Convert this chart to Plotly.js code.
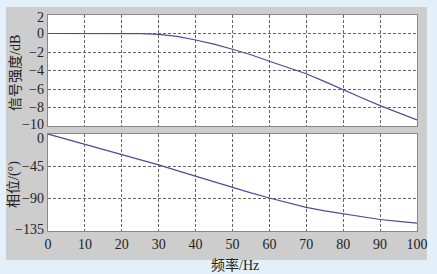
<!DOCTYPE html>
<html>
<head>
<meta charset="utf-8">
<script src="https://cdn.plot.ly/plotly-3.0.1.min.js"></script>
<style>html,body{margin:0;padding:0;background:#E3F0F9;}#chart{width:437px;height:274px;}</style>
</head>
<body>
<div id="chart"></div>
<script>
const freq = [0,5,10,15,20,25,30,35,40,45,50,55,60,65,70,75,80,85,90,95,100];
const magnitude = [0,0,0,0,0,-0.02,-0.1,-0.32,-0.7,-1.15,-1.7,-2.3,-3.0,-3.65,-4.35,-5.2,-6.1,-6.95,-7.8,-8.6,-9.35];
const phase = [0,-7,-14,-21,-28,-35.5,-43,-51,-59,-67,-75,-82,-89,-96,-102,-107,-111,-115.5,-119,-121.5,-124];
const xTicks = [0,10,20,30,40,50,60,70,80,90,100];
const magTicks = [2,0,-2,-4,-6,-8,-10];
const phaseTicks = [0,-45,-90,-135];
const magTitle = '信号强度/dB';
const phaseTitle = '相位/(°)';
const xTitle = '频率/Hz';

const lineColor = '#4a4e98';
const tickFont = {family: 'Liberation Serif, serif', size: 14, color: '#222'};
const gridCommon = {
  showgrid: true, gridcolor: '#666', gridwidth: 1, griddash: '3px,2px',
  showline: true, linecolor: '#888', linewidth: 1, mirror: true,
  zeroline: false, ticks: '', tickfont: tickFont, fixedrange: true
};

const traces = [
  {x: freq, y: magnitude, xaxis: 'x', yaxis: 'y', mode: 'lines', line: {color: lineColor, width: 1.2}, hoverinfo: 'skip'},
  {x: freq, y: phase, xaxis: 'x2', yaxis: 'y2', mode: 'lines', line: {color: lineColor, width: 1.2}, hoverinfo: 'skip'}
];

function fmt(v){ return v < 0 ? '\u2212' + Math.abs(v) : String(v); }
function tickShift(v, arr){
  if (v === arr[0]) return arr === magTicks ? -2.5 : -4;
  if (v === arr[arr.length-1]) return arr === magTicks ? 2 : 1;
  return 0;
}
const tickAnns = [];
magTicks.forEach(v => tickAnns.push({text: fmt(v), xref: 'paper', yref: 'y', x: 0, y: v, xanchor: 'right', yanchor: 'middle', xshift: -2, yshift: tickShift(v, magTicks), showarrow: false, font: tickFont}));
phaseTicks.forEach(v => tickAnns.push({text: fmt(v), xref: 'paper', yref: 'y2', x: 0, y: v, xanchor: 'right', yanchor: 'middle', xshift: -2, yshift: tickShift(v, phaseTicks), showarrow: false, font: tickFont}));

const titleFont = {family: 'Liberation Serif, Noto Sans CJK SC, serif', size: 14, color: '#222'};

const layout = {
  width: 437, height: 274,
  margin: {l: 48, r: 20, t: 15, b: 43},
  paper_bgcolor: '#E3F0F9',
  plot_bgcolor: 'rgba(0,0,0,0)',
  showlegend: false,
  xaxis: Object.assign({}, gridCommon, {range: [0,100], tickvals: xTicks, showticklabels: false, anchor: 'y', domain: [0,1]}),
  yaxis: Object.assign({}, gridCommon, {range: [-10,2], tickvals: magTicks, showticklabels: false, domain: [0.486, 1], anchor: 'x'}),
  xaxis2: Object.assign({}, gridCommon, {range: [0,100], tickvals: xTicks, anchor: 'y2', domain: [0,1]}),
  yaxis2: Object.assign({}, gridCommon, {range: [-135,0], tickvals: phaseTicks, showticklabels: false, domain: [0, 0.449], anchor: 'x2'}),
  shapes: [
    {type: 'rect', xref: 'paper', yref: 'paper', x0: -0.1138, x1: 1.027, y0: -0.134, y1: 1.037, fillcolor: '#CDCDCD', line: {width: 0}, layer: 'below'},
    {type: 'rect', xref: 'paper', yref: 'paper', x0: 0, x1: 1, y0: 0.486, y1: 1, fillcolor: '#FFFFFF', line: {width: 0}, layer: 'below'},
    {type: 'rect', xref: 'paper', yref: 'paper', x0: 0, x1: 1, y0: 0, y1: 0.449, fillcolor: '#FFFFFF', line: {width: 0}, layer: 'below'}
  ],
  annotations: tickAnns.concat([
    {text: magTitle, xref: 'paper', yref: 'paper', x: (15-48)/369, y: (231-73)/216, textangle: -90, showarrow: false, xanchor: 'center', yanchor: 'middle', font: titleFont},
    {text: phaseTitle, xref: 'paper', yref: 'paper', x: (14-48)/369, y: (231-185)/216, textangle: -90, showarrow: false, xanchor: 'center', yanchor: 'middle', font: titleFont},
    {text: xTitle, xref: 'paper', yref: 'paper', x: (235-48)/369, y: (231-265)/216, showarrow: false, xanchor: 'center', yanchor: 'middle', font: titleFont}
  ])
};

Plotly.newPlot('chart', traces, layout, {displayModeBar: false, staticPlot: true});
</script>
</body>
</html>
